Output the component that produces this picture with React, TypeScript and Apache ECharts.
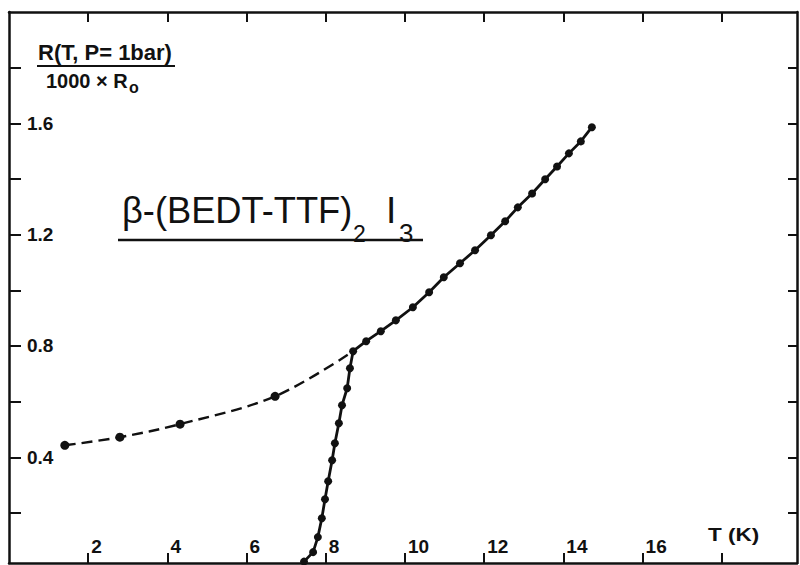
import React, { useEffect, useRef } from "react";
import * as echarts from "echarts";

// Resistance ratio R(T, P=1bar) / (1000 x R0) versus temperature T (K)
const solidT = [7.45, 7.68, 7.8, 7.9, 7.98, 8.06, 8.16, 8.23, 8.33, 8.41, 8.54, 8.61, 8.69, 9.02, 9.39, 9.77, 10.2, 10.61, 10.98, 11.39, 11.77, 12.17, 12.53, 12.85, 13.21, 13.54, 13.84, 14.14, 14.44, 14.72];
const solidR = [0.025, 0.059, 0.113, 0.181, 0.249, 0.314, 0.389, 0.45, 0.522, 0.587, 0.648, 0.72, 0.781, 0.817, 0.853, 0.892, 0.939, 0.993, 1.047, 1.097, 1.144, 1.198, 1.248, 1.298, 1.348, 1.399, 1.445, 1.492, 1.535, 1.586];
const dashedT = [1.41, 2.8, 4.32, 6.72, 8.69];
const dashedR = [0.443, 0.472, 0.519, 0.619, 0.781];

const xTickValues = [2, 4, 6, 8, 10, 12, 14, 16, 18];
const xLabelValues = [2, 4, 6, 8, 10, 12, 14, 16];
const yTickValues = [0.2, 0.4, 0.6, 0.8, 1.0, 1.2, 1.4, 1.6, 1.8];
const yLabelValues = [0.4, 0.8, 1.2, 1.6];

const xUnit = "T (K)";
const yNameTop = "R(T, P= 1bar)";
const yNameBottom = "1000 × R";
const yNameSub = "o";
const titleMain = "β-(BEDT-TTF)";
const titleSub1 = "2";
const titleI = "I";
const titleSub2 = "3";

const INK = "#111";
const FONT = "'Liberation Sans', Arial, sans-serif";

export default function App() {
  const ref = useRef<HTMLDivElement>(null);
  useEffect(() => {
    if (!ref.current) return;
    const chart = echarts.init(ref.current, null, { renderer: "svg" });
    const axisLine = { show: true, onZero: false, lineStyle: { color: INK, width: 2.5 } };
    const labelStyle = { fontFamily: FONT, fontWeight: "bold" as const, fontSize: 19, color: INK };
    chart.setOption({
      animation: false,
      backgroundColor: "#fff",
      grid: { left: 9, right: 3, top: 12, bottom: 2, containLabel: false },
      xAxis: [
        {
          type: "value",
          position: "bottom",
          min: 0,
          max: 19.9,
          axisLine,
          axisTick: { show: true, inside: true, length: 10, customValues: xTickValues, lineStyle: { color: INK, width: 2 } },
          axisLabel: { ...labelStyle, inside: true, margin: 7, align: "left", padding: [0, 0, 0, 3], customValues: xLabelValues, formatter: (v: number) => String(v) },
          splitLine: { show: false },
        },
        {
          type: "value",
          position: "top",
          min: 0,
          max: 19.9,
          axisLine,
          axisTick: { show: true, inside: true, length: 10, customValues: xTickValues, lineStyle: { color: INK, width: 2 } },
          axisLabel: { show: false },
          splitLine: { show: false },
        },
      ],
      yAxis: [
        {
          type: "value",
          position: "left",
          min: 0.02,
          max: 2.0,
          axisLine,
          axisTick: { show: true, inside: true, length: 12, customValues: yTickValues, lineStyle: { color: INK, width: 2 } },
          axisLabel: { ...labelStyle, inside: true, margin: 18, align: "left", customValues: yLabelValues, formatter: (v: number) => v.toFixed(1) },
          splitLine: { show: false },
        },
        {
          type: "value",
          position: "right",
          min: 0.02,
          max: 2.0,
          axisLine,
          axisTick: { show: true, inside: true, length: 9, customValues: yTickValues, lineStyle: { color: INK, width: 2 } },
          axisLabel: { show: false },
          splitLine: { show: false },
        },
      ],
      series: [
        {
          type: "line",
          xAxisIndex: 0,
          yAxisIndex: 0,
          data: dashedT.map((t, i) =>
            i === dashedT.length - 1 ? { value: [t, dashedR[i]], symbol: "none" } : [t, dashedR[i]]
          ),
          smooth: 0.35,
          symbol: "circle",
          symbolSize: 9,
          itemStyle: { color: INK },
          lineStyle: { color: INK, width: 2.4, type: [11, 6] },
          z: 2,
        },
        {
          type: "line",
          xAxisIndex: 0,
          yAxisIndex: 0,
          data: solidT.map((t, i) => [t, solidR[i]]),
          symbol: "circle",
          symbolSize: 8,
          itemStyle: { color: INK },
          lineStyle: { color: INK, width: 2.8 },
          z: 3,
        },
      ],
      graphic: [
        { type: "text", x: 105, y: 52, style: { text: yNameTop, fill: INK, font: `bold 22px ${FONT}`, align: "center", verticalAlign: "middle" } },
        { type: "line", shape: { x1: 37, y1: 66, x2: 175, y2: 66 }, style: { stroke: INK, lineWidth: 2 } },
        { type: "text", x: 46, y: 81, style: { text: yNameBottom, fill: INK, font: `bold 20px ${FONT}`, align: "left", verticalAlign: "middle" } },
        { type: "text", x: 129, y: 87, style: { text: yNameSub, fill: INK, font: `bold 16px ${FONT}`, align: "left", verticalAlign: "middle" } },
        { type: "text", x: 122, y: 210, scaleX: 0.98, style: { text: titleMain, fill: INK, font: `37px ${FONT}`, align: "left", verticalAlign: "middle" } },
        { type: "text", x: 353, y: 234, style: { text: titleSub1, fill: INK, font: `23px ${FONT}`, align: "left", verticalAlign: "middle" } },
        { type: "text", x: 386, y: 210, style: { text: titleI, fill: INK, font: `37px ${FONT}`, align: "left", verticalAlign: "middle" } },
        { type: "text", x: 399, y: 233, style: { text: titleSub2, fill: INK, font: `26px ${FONT}`, align: "left", verticalAlign: "middle" } },
        { type: "line", shape: { x1: 118, y1: 240, x2: 423, y2: 240 }, style: { stroke: INK, lineWidth: 2.5 } },
        { type: "text", x: 708, y: 535, scaleX: 1.25, style: { text: xUnit, fill: INK, font: `bold 18px ${FONT}`, align: "left", verticalAlign: "middle" } },
      ],
    });
    return () => chart.dispose();
  }, []);
  return (
    <div
      ref={ref}
      style={{ position: "fixed", left: 0, top: 0, width: 800, height: 565, background: "#fff" }}
    />
  );
}
